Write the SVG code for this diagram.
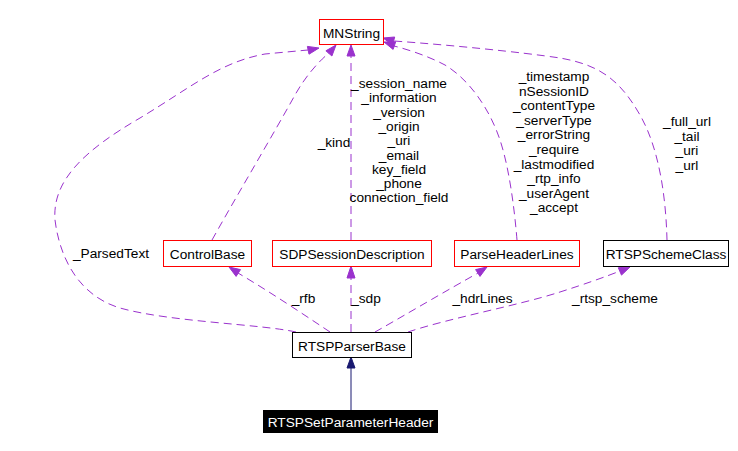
<svg xmlns="http://www.w3.org/2000/svg" width="738" height="451" viewBox="0 0 738 451">
<style>
text{font-family:"Liberation Sans",Arial,sans-serif;font-size:13.7px;fill:#000;text-anchor:middle}
.box{fill:#fff;stroke-width:1}
.red{stroke:#ff0000}
.blk{stroke:#000}
.e{fill:none;stroke:#9a32cd;stroke-width:1;stroke-dasharray:8,5}
.ah{fill:#9a32cd;stroke:#9a32cd}
.inh{fill:none;stroke:#191970;stroke-width:1}
.ih{fill:#191970;stroke:#191970}
</style>
<rect width="738" height="451" fill="#fff"/>
<g id="connectors">
  <path class="e" d="M296,332 C260,324 170,322 120,308 C80,296 60,260 55,220 C52,180 85,150 140,118 C190,88 220,62 265,54 L308,50"/>
  <polygon class="ah" points="319,48 309,54.2 307.4,46.4"/>
  <path class="e" d="M212,240 C240,190 270,140 295,95 C305,77 318,62 329,53"/>
  <polygon class="ah" points="336,45 331.9,56 325.9,50.8"/>
  <path class="e" d="M351,240 L351,56"/>
  <polygon class="ah" points="351,45 355,56 347,56"/>
  <path class="e" d="M517,240 C515,215 510,170 500,140 C490,110 470,80 445,65 C430,57 410,50 394,46"/>
  <polygon class="ah" points="384,42 395.7,41.8 393.1,49.4"/>
  <path class="e" d="M667,240 C666,200 660,150 640,115 C620,80 600,65 560,58 C520,52 450,45 394,41"/>
  <polygon class="ah" points="383,38 394.7,37 392.6,44.8"/>
  <path class="e" d="M330,332 C300,312 270,292 238,273"/>
  <polygon class="ah" points="229,267 240.5,269.6 236.1,276.4"/>
  <path class="e" d="M351,332 L351,278"/>
  <polygon class="ah" points="351,266 355,278 347,278"/>
  <path class="e" d="M375,332 C400,318 430,300 478,273"/>
  <polygon class="ah" points="487,267 480,276.4 475.6,269.6"/>
  <path class="e" d="M408,332 C450,318 520,305 560,292 C585,284 605,277 620,271"/>
  <polygon class="ah" points="630,267 621.5,275.1 618.3,267.7"/>
  <path class="inh" d="M351,410 L351,368"/>
  <polygon class="ih" points="351,357 355,368 347,368"/>
</g>
<g id="labels">
  <text x="111" y="258">_ParsedText</text>
  <text x="334" y="147">_kind</text>
  <text x="399" y="88">_session_name</text>
  <text x="399" y="102.3">_information</text>
  <text x="399" y="116.6">_version</text>
  <text x="399" y="130.9">_origin</text>
  <text x="399" y="145.2">_uri</text>
  <text x="399" y="159.5">_email</text>
  <text x="399" y="173.8">key_field</text>
  <text x="399" y="188.1">_phone</text>
  <text x="399" y="202.4">connection_field</text>
  <text x="554" y="81">_timestamp</text>
  <text x="554" y="95.6">nSessionID</text>
  <text x="554" y="110.2">_contentType</text>
  <text x="554" y="124.8">_serverType</text>
  <text x="554" y="139.4">_errorString</text>
  <text x="554" y="154">_require</text>
  <text x="554" y="168.6">_lastmodified</text>
  <text x="554" y="183.2">_rtp_info</text>
  <text x="554" y="197.8">_userAgent</text>
  <text x="554" y="212.4">_accept</text>
  <text x="687" y="126">_full_url</text>
  <text x="687" y="140.6">_tail</text>
  <text x="687" y="155.2">_uri</text>
  <text x="687" y="169.8">_url</text>
  <text x="303.5" y="303">_rfb</text>
  <text x="366" y="303">_sdp</text>
  <text x="482.5" y="303">_hdrLines</text>
  <text x="615" y="303">_rtsp_scheme</text>
</g>
<g id="MNString">
  <rect class="box red" x="319.5" y="19.5" width="64" height="25"/>
  <text x="351.5" y="37.5">MNString</text>
</g>
<g id="ControlBase">
  <rect class="box red" x="163.5" y="240.5" width="88" height="26"/>
  <text x="207.5" y="259">ControlBase</text>
</g>
<g id="SDPSessionDescription">
  <rect class="box red" x="272.5" y="240.5" width="159" height="26"/>
  <text x="352" y="259">SDPSessionDescription</text>
</g>
<g id="ParseHeaderLines">
  <rect class="box red" x="454.5" y="240.5" width="125" height="26"/>
  <text x="517" y="259">ParseHeaderLines</text>
</g>
<g id="RTSPSchemeClass">
  <rect class="box blk" x="603.5" y="240.5" width="125" height="26"/>
  <text x="666" y="259">RTSPSchemeClass</text>
</g>
<g id="RTSPParserBase">
  <rect class="box blk" x="292.5" y="332.5" width="119" height="25"/>
  <text x="352" y="350.5">RTSPParserBase</text>
</g>
<g id="RTSPSetParameterHeader">
  <rect x="263" y="410" width="175" height="23" fill="#000"/>
  <text x="350.5" y="427" style="fill:#fff">RTSPSetParameterHeader</text>
</g>
</svg>
